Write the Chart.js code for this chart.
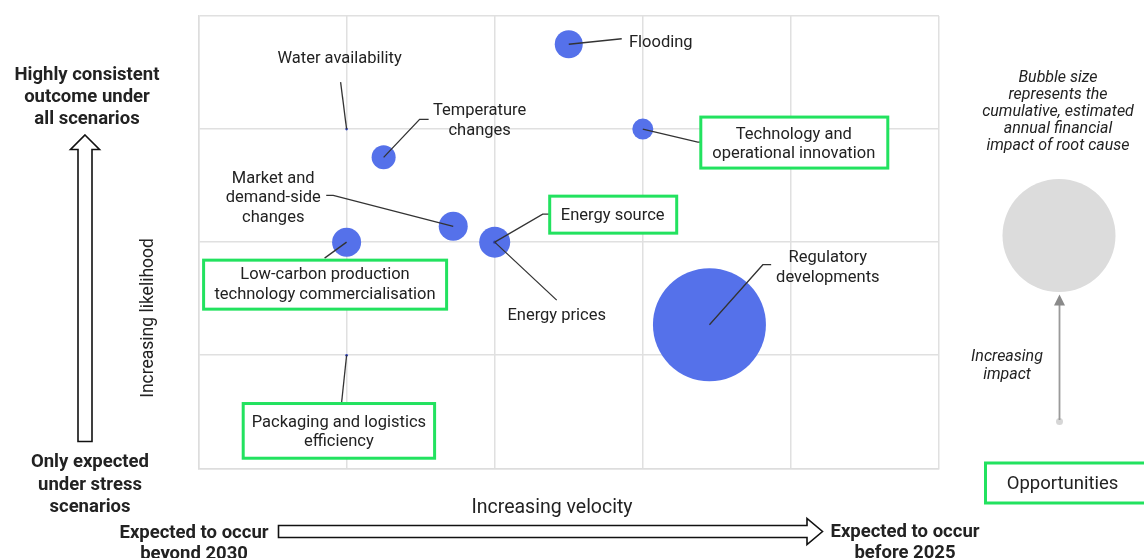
<!DOCTYPE html>
<html>
<head>
<meta charset="utf-8">
<script src="https://cdn.jsdelivr.net/npm/chart.js@4.4.1/dist/chart.umd.min.js"></script>
<style>
  html, body { margin: 0; padding: 0; background: #ffffff; }
  canvas { display: block; }
</style>
</head>
<body>
<canvas id="c" width="1144" height="558"></canvas>
<script>
// Root causes plotted by velocity (x) and likelihood (y); bubble radius = financial impact
const rootCauses = [
  'Flooding',
  'Water availability',
  'Temperature changes',
  'Technology and operational innovation',
  'Market and demand-side changes',
  'Low-carbon production technology commercialisation',
  'Energy source',
  'Energy prices',
  'Regulatory developments',
  'Packaging and logistics efficiency'
];
const velocity   = [2.5, 1, 1.25, 3, 1.72, 1, 2, 2, 3.45, 1];
const likelihood = [3.75, 3, 2.75, 3, 2.14, 2, 2, 2, 1.27, 1];
const impact     = [14, 1.3, 12, 10.5, 14.5, 14.5, 15.5, 1.6, 56.5, 1.3];
const isOpportunity = [false, false, false, true, false, true, true, false, false, true];

// Callout text lines per root cause
const calloutLines = [
  ['Flooding'],
  ['Water availability'],
  ['Temperature', 'changes'],
  ['Technology and', 'operational innovation'],
  ['Market and', 'demand-side', 'changes'],
  ['Low-carbon production', 'technology commercialisation'],
  ['Energy source'],
  ['Energy prices'],
  ['Regulatory', 'developments'],
  ['Packaging and logistics', 'efficiency']
];

// Callout placement relative to the bubble centre (pixels): text centre, leader path, optional box
const calloutLayout = [
  { tx: 92,    ty: -3.5, path: [[0, 0], [53, -5.5]] },
  { tx: -7,    ty: -72,  path: [[0, 0], [-6, -47]] },
  { tx: 96,    ty: -38.5, path: [[0, 0], [36, -38], [45, -38]] },
  { tx: 151,   ty: 13.5, path: [[0, 0], [55, 13], [58, 13]], box: [58, -12, 245, 39] },
  { tx: -180,  ty: -30,  path: [[0, 0], [-120, -31], [-127, -31]] },
  { tx: -21.6, ty: 41,   path: [[0, 0], [-22, 16]], box: [-143, 18, 100, 67] },
  { tx: 118,   ty: -28,  path: [[0, 0], [48, -28], [55, -28]], box: [55, -46, 182, -9] },
  { tx: 62,    ty: 72,   path: [[0, 0], [62, 58]] },
  { tx: 118.4, ty: -58.5, path: [[0, 0], [53.4, -60], [61.7, -60]] },
  { tx: -7.7,  ty: 75.5, path: [[0, 0], [-5, 47.3]], box: [-103.4, 48.3, 88, 103] }
];

const FONT = 'Roboto, "Liberation Sans", sans-serif';
const TEXT = '#222222';
const GREEN = '#22e25f';
const BLUE = '#5571ea';
const DOT_BLUE = '#2c3fb8';

const points = velocity.map((v, i) => ({ x: v, y: likelihood[i], r: impact[i] }));

// Centred multi-line text; small downward nudge so glyphs sit on their optical centre
function drawLines(ctx, lines, cx, cy, lh) {
  const start = cy + 1.8 - (lines.length - 1) * lh / 2;
  lines.forEach((t, k) => ctx.fillText(t, cx, start + k * lh));
}

const calloutPlugin = {
  id: 'callouts',
  afterDatasetsDraw(chart) {
    const ctx = chart.ctx;
    const xs = chart.scales.x, ys = chart.scales.y;
    ctx.save();
    points.forEach((p, i) => {
      const cx = xs.getPixelForValue(p.x);
      const cy = ys.getPixelForValue(p.y);
      const L = calloutLayout[i];
      ctx.strokeStyle = '#333333';
      ctx.lineWidth = 1.3;
      ctx.beginPath();
      L.path.forEach(([dx, dy], k) => {
        if (k === 0) ctx.moveTo(cx + dx, cy + dy); else ctx.lineTo(cx + dx, cy + dy);
      });
      ctx.stroke();
      if (L.box && isOpportunity[i]) {
        ctx.fillStyle = '#ffffff';
        const [x0, y0, x1, y1] = L.box;
        ctx.fillRect(cx + x0, cy + y0, x1 - x0, y1 - y0);
        ctx.strokeStyle = GREEN;
        ctx.lineWidth = 3;
        ctx.strokeRect(cx + x0, cy + y0, x1 - x0, y1 - y0);
      }
      ctx.fillStyle = TEXT;
      ctx.font = '16.5px ' + FONT;
      ctx.textAlign = 'center';
      ctx.textBaseline = 'middle';
      drawLines(ctx, calloutLines[i], cx + L.tx, cy + L.ty, 19.5);
    });
    ctx.restore();
  }
};

const framePlugin = {
  id: 'frame',
  afterDraw(chart) {
    const ctx = chart.ctx;
    ctx.save();
    ctx.fillStyle = TEXT;
    ctx.textAlign = 'center';
    ctx.textBaseline = 'middle';

    // Likelihood axis: end labels, hollow arrow, title
    ctx.font = 'bold 18.5px ' + FONT;
    drawLines(ctx, ['Highly consistent', 'outcome under', 'all scenarios'], 87, 95.5, 22);
    drawLines(ctx, ['Only expected', 'under stress', 'scenarios'], 90, 483.5, 22.5);

    ctx.strokeStyle = '#111111';
    ctx.lineWidth = 1.6;
    ctx.fillStyle = '#ffffff';
    ctx.beginPath();
    ctx.moveTo(85, 135);
    ctx.lineTo(99.5, 149.5);
    ctx.lineTo(92, 149.5);
    ctx.lineTo(92, 441.5);
    ctx.lineTo(78, 441.5);
    ctx.lineTo(78, 149.5);
    ctx.lineTo(70.5, 149.5);
    ctx.closePath();
    ctx.fill();
    ctx.stroke();

    ctx.fillStyle = TEXT;
    ctx.font = '17.5px ' + FONT;
    ctx.save();
    ctx.translate(149, 318);
    ctx.rotate(-Math.PI / 2);
    ctx.fillText('Increasing likelihood', 0, 0);
    ctx.restore();

    // Velocity axis: title, hollow arrow, end labels
    ctx.font = '19.5px ' + FONT;
    ctx.fillText('Increasing velocity', 552, 508);

    ctx.font = 'bold 18.5px ' + FONT;
    drawLines(ctx, ['Expected to occur', 'beyond 2030'], 194, 542, 20.5);
    drawLines(ctx, ['Expected to occur', 'before 2025'], 905, 541, 20.5);

    ctx.fillStyle = '#ffffff';
    ctx.strokeStyle = '#111111';
    ctx.beginPath();
    ctx.moveTo(278.5, 525.5);
    ctx.lineTo(807, 525.5);
    ctx.lineTo(807, 518.5);
    ctx.lineTo(822.5, 531.5);
    ctx.lineTo(807, 544.5);
    ctx.lineTo(807, 537.5);
    ctx.lineTo(278.5, 537.5);
    ctx.closePath();
    ctx.fill();
    ctx.stroke();

    // Bubble size key
    ctx.fillStyle = TEXT;
    ctx.font = 'italic 16px ' + FONT;
    drawLines(ctx, ['Bubble size', 'represents the', 'cumulative, estimated', 'annual financial', 'impact of root cause'], 1058, 110, 17);

    ctx.fillStyle = '#dcdcdc';
    ctx.beginPath();
    ctx.arc(1059, 235.5, 56.5, 0, Math.PI * 2);
    ctx.fill();

    ctx.fillStyle = '#d6d6d6';
    ctx.beginPath();
    ctx.arc(1059.5, 421.5, 3.5, 0, Math.PI * 2);
    ctx.fill();

    ctx.strokeStyle = '#9a9a9a';
    ctx.lineWidth = 1.8;
    ctx.beginPath();
    ctx.moveTo(1059.5, 420);
    ctx.lineTo(1059.5, 304);
    ctx.stroke();
    ctx.fillStyle = '#8a8a8a';
    ctx.beginPath();
    ctx.moveTo(1059.5, 294.5);
    ctx.lineTo(1065, 305.5);
    ctx.lineTo(1054, 305.5);
    ctx.closePath();
    ctx.fill();

    ctx.fillStyle = TEXT;
    ctx.font = 'italic 16px ' + FONT;
    drawLines(ctx, ['Increasing', 'impact'], 1007, 364, 18);

    // Opportunities key
    ctx.strokeStyle = GREEN;
    ctx.lineWidth = 3;
    ctx.strokeRect(985.5, 463, 170, 40);
    ctx.fillStyle = TEXT;
    ctx.font = '18.5px ' + FONT;
    ctx.fillText('Opportunities', 1062.5, 484);

    ctx.restore();
  }
};

new Chart(document.getElementById('c'), {
  type: 'bubble',
  data: {
    labels: rootCauses,
    datasets: [{
      data: points,
      backgroundColor: impact.map(r => r < 3 ? DOT_BLUE : BLUE),
      borderWidth: 0,
      hoverBorderWidth: 0
    }]
  },
  options: {
    responsive: false,
    devicePixelRatio: 1,
    animation: false,
    events: [],
    layout: { autoPadding: false, padding: { left: 198.5, right: 205, top: 16, bottom: 89.7 } },
    plugins: {
      legend: { display: false },
      tooltip: { enabled: false }
    },
    scales: {
      x: {
        type: 'linear', min: 0, max: 5,
        ticks: { display: false, stepSize: 1 },
        grid: { color: '#e0e0e0', lineWidth: 1.5, drawTicks: false },
        border: { display: true, color: '#dddddd', width: 1.5 }
      },
      y: {
        type: 'linear', min: 0, max: 4,
        ticks: { display: false, stepSize: 1 },
        grid: { color: '#e0e0e0', lineWidth: 1.5, drawTicks: false },
        border: { display: true, color: '#dddddd', width: 1.5 }
      }
    }
  },
  plugins: [calloutPlugin, framePlugin]
});
</script>
</body>
</html>
